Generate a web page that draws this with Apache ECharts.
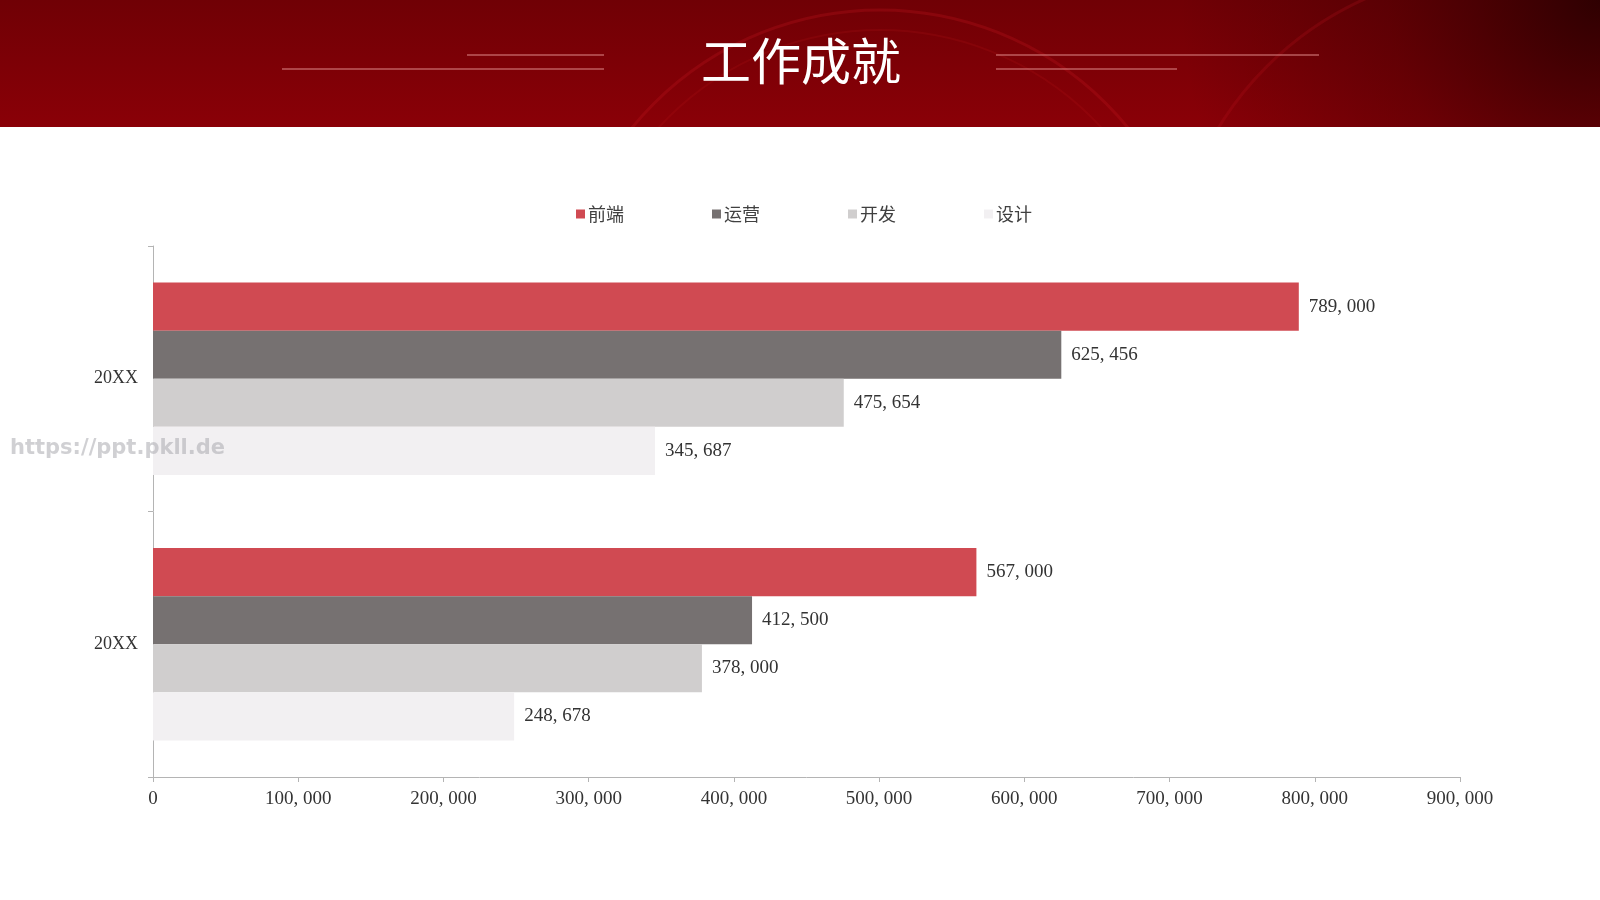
<!DOCTYPE html>
<html>
<head>
  <meta charset="utf-8">
  <title>工作成就</title>
  <style type="text/css">
    html, body { margin: 0; padding: 0; background: #fff; }
    #main { width: 1600px; height: 900px; }
  </style>
</head>
<body>
<div id="main"></div>
<script type="text/javascript" src="https://cdn.jsdelivr.net/npm/echarts@6/dist/echarts.min.js"></script>
<script type="text/javascript">
  // 数据
  var categories = ['20XX', '20XX'];
  var seriesNames = ['前端', '运营', '开发', '设计'];
  var frontEnd = [789000, 567000];
  var operation = [625456, 412500];
  var develop = [475654, 378000];
  var design = [345687, 248678];
  var colors = ['#D04A52', '#767171', '#D0CECE', '#F2F0F2'];

  var myChart = echarts.init(document.getElementById('main'));

  function fmt(v) {
    // 千分位，逗号后留空，模仿原图宋体的宽逗号
    return echarts.format.addCommas(v).replace(/,/g, ', ');
  }

  var serifFont = '"Liberation Serif", "Noto Sans CJK SC", serif';
  var valueLists = [frontEnd, operation, develop, design];

  var series = seriesNames.map(function (name, i) {
    return {
      name: name,
      type: 'bar',
      data: valueLists[i],
      barGap: '0%',
      barCategoryGap: '27.5%',
      itemStyle: { color: colors[i] },
      label: {
        show: true,
        position: 'right',
        distance: 10,
        color: '#333',
        fontSize: 19,
        fontFamily: serifFont,
        padding: [5, 0, 0, 0],
        formatter: function (p) { return fmt(p.value); }
      }
    };
  });

  var option = {
    backgroundColor: '#fff',
    animation: false,
    color: colors,
    graphic: [
      {
        type: 'rect',
        left: 0, top: 0, z: -10,
        shape: { width: 1600, height: 127 },
        style: {
          fill: new echarts.graphic.LinearGradient(0, 0, 0, 1, [
            { offset: 0, color: '#700005' },
            { offset: 1, color: '#8a0007' }
          ])
        }
      },
      {
        type: 'rect',
        left: 0, top: 0, z: -9,
        shape: { width: 1600, height: 127 },
        style: {
          fill: new echarts.graphic.RadialGradient(1600, 0, 420, [
            { offset: 0, color: 'rgba(25,0,0,0.75)' },
            { offset: 0.5, color: 'rgba(40,0,0,0.3)' },
            { offset: 1, color: 'rgba(40,0,0,0)' }
          ], true)
        }
      },
      {
        type: 'circle', z: -8, silent: true,
        shape: { cx: 880, cy: 330, r: 320 },
        style: { fill: 'none', stroke: 'rgba(190,20,30,0.3)', lineWidth: 3 }
      },
      {
        type: 'circle', z: -8, silent: true,
        shape: { cx: 880, cy: 330, r: 300 },
        style: { fill: 'none', stroke: 'rgba(190,20,30,0.18)', lineWidth: 2 }
      },
      {
        type: 'circle', z: -8, silent: true,
        shape: { cx: 1500, cy: 300, r: 330 },
        style: { fill: 'none', stroke: 'rgba(190,20,30,0.22)', lineWidth: 3 }
      },
      {
        type: 'rect', left: 0, top: 127, z: -7, silent: true,
        shape: { width: 1600, height: 773 },
        style: { fill: '#fff' }
      },
      {
        type: 'text',
        x: 801, y: 61,
        style: {
          text: '工作成就',
          fill: '#fff',
          font: '50px "Noto Sans CJK SC"',
          textAlign: 'center',
          textVerticalAlign: 'middle',
          shadowColor: 'rgba(0,0,0,0.35)',
          shadowBlur: 2,
          shadowOffsetX: 1,
          shadowOffsetY: 1
        }
      },
      {
        type: 'line',
        shape: { x1: 467, y1: 55, x2: 604, y2: 55 },
        style: { stroke: '#e08a8a', lineWidth: 1 }
      },
      {
        type: 'line',
        shape: { x1: 282, y1: 69, x2: 604, y2: 69 },
        style: { stroke: '#e08a8a', lineWidth: 1 }
      },
      {
        type: 'line',
        shape: { x1: 996, y1: 55, x2: 1319, y2: 55 },
        style: { stroke: '#e08a8a', lineWidth: 1 }
      },
      {
        type: 'line',
        shape: { x1: 996, y1: 69, x2: 1177, y2: 69 },
        style: { stroke: '#e08a8a', lineWidth: 1 }
      },
      {
        type: 'text',
        x: 10, y: 449, z: 100,
        style: {
          text: 'https://ppt.pkll.de',
          fill: 'rgba(170,170,175,0.55)',
          font: 'bold 21px "DejaVu Sans"',
          textVerticalAlign: 'middle'
        }
      }
    ],
    legend: {
      data: seriesNames,
      top: 200,
      left: 571,
      itemWidth: 9,
      itemHeight: 9,
      itemGap: 88,
      icon: 'rect',
      textStyle: {
        color: '#404040',
        fontSize: 18,
        fontFamily: '"Noto Sans CJK SC"',
        padding: [0, 0, 0, -2]
      }
    },
    grid: {
      left: 153,
      right: 140,
      top: 246,
      bottom: 123,
      containLabel: false
    },
    xAxis: {
      type: 'value',
      min: 0,
      max: 900000,
      interval: 100000,
      axisLine: { show: true, lineStyle: { color: '#b4b4b4' } },
      axisTick: { show: true, length: 5, lineStyle: { color: '#b4b4b4' } },
      splitLine: { show: false },
      axisLabel: {
        color: '#333',
        fontSize: 19,
        fontFamily: serifFont,
        margin: 13,
        formatter: function (v) { return fmt(v); }
      }
    },
    yAxis: {
      type: 'category',
      data: categories,
      inverse: true,
      axisLine: { show: true, lineStyle: { color: '#b4b4b4' } },
      axisTick: { show: true, length: 5, lineStyle: { color: '#b4b4b4' } },
      axisLabel: {
        color: '#333',
        fontSize: 18,
        fontFamily: serifFont,
        margin: 15,
        padding: [8, 0, 0, 0]
      }
    },
    series: series
  };

  myChart.setOption(option);
</script>
</body>
</html>
